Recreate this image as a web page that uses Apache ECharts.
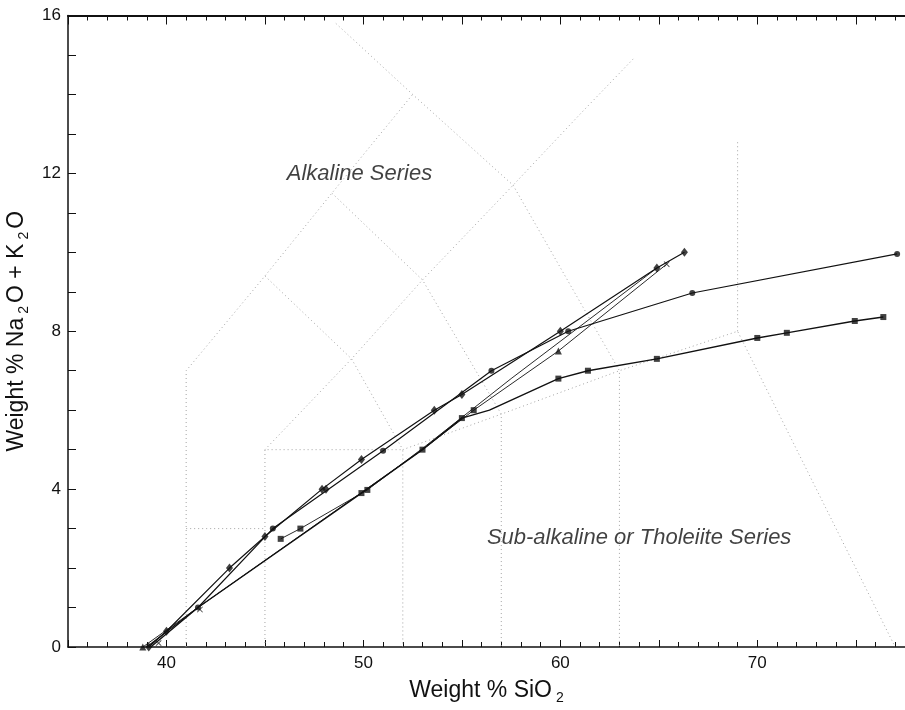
<!DOCTYPE html>
<html>
<head>
<meta charset="utf-8">
<script src="https://cdn.jsdelivr.net/npm/echarts@6/dist/echarts.min.js"></script>
<style>
  html, body { margin: 0; padding: 0; background: #fff; }
  #chart { width: 905px; height: 710px; }
</style>
</head>
<body>
<div id="chart"></div>
<script>
// axis ticks
const xLabels = [40, 50, 60, 70];
const yLabels = [0, 4, 8, 12, 16];

// TAS field boundaries (dotted)
const fieldLines = [
    [[41, 0], [41, 7], [45, 9.4], [48.4, 11.5], [52.5, 14]],
    [[48.6, 15.8], [52.5, 14], [57.6, 11.7], [63, 7], [63, 0]],
    [[41, 3], [45, 3]],
    [[45, 0], [45, 5], [52, 5], [52, 0]],
    [[45, 5], [49.4, 7.3], [53, 9.3], [57.6, 11.7], [61, 13.5], [63.7, 14.9]],
    [[45, 9.4], [49.4, 7.3], [52, 5], [57, 5.9], [63, 7], [69, 8], [77, 0]],
    [[48.4, 11.5], [53, 9.3], [57, 5.9], [57, 0]],
    [[69, 8], [69, 12.8]]
];

// differentiation trends
const trendCircles = [[39.0, 0], [41.6, 1.0], [45.4, 3.0], [51.0, 4.97], [56.5, 7.0], [60.4, 8.0], [66.7, 8.97], [77.1, 9.96]];
const trendDiamonds = [[39.1, 0], [40.0, 0.4], [43.2, 2.0], [45.0, 2.8], [47.9, 4.0], [49.9, 4.75], [53.6, 6.0], [55.0, 6.4], [60.0, 8.0], [64.9, 9.6], [66.3, 10.0]];
const trendTriangles = [[38.8, 0], [41.6, 1.0], [53.0, 5.0], [55.6, 6.0], [59.9, 7.5], [65.4, 9.7]];
const trendTholeiite = [[39.2, 0], [41.6, 1.0], [49.9, 3.9], [53.0, 5.0], [55.0, 5.8], [56.4, 6.0], [59.9, 6.8], [61.4, 7.0], [64.9, 7.3], [70.0, 7.83], [71.5, 7.96], [74.95, 8.26], [76.4, 8.36]];
const trendShort = [[45.8, 2.74], [46.8, 3.0], [50.2, 3.98], [53.1, 5.07], [57.5, 6.8], [64.9, 9.6]];

// plotted samples
const diamondPts = [[39.1, 0], [40.0, 0.4], [43.2, 2.0], [45.0, 2.8], [47.9, 4.0], [48.1, 4.0], [49.9, 4.75], [53.6, 6.0], [55.0, 6.4], [60.0, 8.0], [64.9, 9.6], [66.3, 10.0]];
const circlePts = [[41.6, 1.0], [45.4, 3.0], [51.0, 4.97], [56.5, 7.0], [60.4, 8.0], [66.7, 8.97], [77.1, 9.96]];
const squarePts = [[45.8, 2.74], [46.8, 3.0], [49.9, 3.9], [50.2, 3.98], [53.0, 5.0], [55.0, 5.8], [55.6, 6.0], [59.9, 6.8], [61.4, 7.0], [64.9, 7.3], [70.0, 7.83], [71.5, 7.96], [74.95, 8.26], [76.4, 8.36]];
const trianglePts = [[38.8, 0], [59.9, 7.5]];
const crossPts = [[41.7, 0.95], [65.4, 9.7], [39.6, 0.1]];

const FONT = '"Liberation Sans", Arial, sans-serif';
const INK = '#111';
const crossPath = 'path://M0,1L1,0L5,4L9,0L10,1L6,5L10,9L9,10L5,6L1,10L0,9L4,5Z';

const chart = echarts.init(document.getElementById('chart'), null, {renderer: 'canvas'});

function axisX(pos) {
    return {
        type: 'value',
        position: pos,
        min: 35,
        max: 77.5,
        interval: 5,
        axisLine: {show: true, onZero: false, lineStyle: {color: INK, width: pos === 'top' ? 2 : 1.5}},
        axisTick: {show: true, inside: true, length: pos === 'top' ? 9 : 7, lineStyle: {color: INK, width: 1}},
        minorTick: {show: true, splitNumber: 5, length: 5, lineStyle: {color: INK, width: 1}},
        splitLine: {show: false},
        minorSplitLine: {show: false},
        axisLabel: {
            show: pos === 'bottom',
            margin: 8,
            fontSize: 17,
            fontFamily: FONT,
            color: INK,
            formatter: v => xLabels.includes(v) ? String(v) : ''
        }
    };
}

const xBottom = axisX('bottom');
xBottom.name = '{a|Weight % SiO}{b|2}';
xBottom.nameLocation = 'middle';
xBottom.nameGap = 29;
xBottom.nameTextStyle = {
    color: INK,
    fontFamily: FONT,
    rich: {
        a: {fontSize: 23, fontFamily: FONT, color: INK},
        b: {fontSize: 14, fontFamily: FONT, color: INK, padding: [15, 0, 0, 4]}
    }
};

const option = {
    animation: false,
    backgroundColor: '#fff',
    grid: {left: 68, top: 15.5, right: 0, bottom: 63, outerBoundsMode: 'none', containLabel: false},
    xAxis: [xBottom, axisX('top')],
    yAxis: {
        type: 'value',
        min: 0,
        max: 16,
        interval: 4,
        axisLine: {show: true, lineStyle: {color: INK, width: 1.5}},
        axisTick: {show: true, inside: true, length: 8, lineStyle: {color: INK}},
        minorTick: {show: true, splitNumber: 4, length: 8, lineStyle: {color: INK}},
        splitLine: {show: false},
        axisLabel: {
            margin: 7,
            fontSize: 17,
            fontFamily: FONT,
            color: INK,
            formatter: v => yLabels.includes(v) ? String(v) : ''
        },
        name: '{a|Weight % Na}{b|2}{a|O + K}{b|2}{a|O}',
        nameLocation: 'middle',
        nameGap: 26,
        nameTextStyle: {
            color: INK,
            fontFamily: FONT,
            rich: {
                a: {fontSize: 23, fontFamily: FONT, color: INK},
                b: {fontSize: 14, fontFamily: FONT, color: INK, padding: [15, 3, 0, 4]}
            }
        }
    },
    series: []
};

fieldLines.forEach(seg => {
    option.series.push({
        type: 'line',
        data: seg,
        symbol: 'none',
        silent: true,
        z: 1,
        lineStyle: {color: '#a4a4a4', width: 1, type: [1, 3]}
    });
});

[
    [trendCircles, 1.2],
    [trendDiamonds, 1.2],
    [trendTriangles, 0.9],
    [trendTholeiite, 1.4],
    [trendShort, 0.9]
].forEach(([d, w]) => {
    option.series.push({
        type: 'line',
        data: d,
        symbol: 'none',
        silent: true,
        z: 2,
        lineStyle: {color: INK, width: w}
    });
});

[
    [diamondPts, 'diamond', [7, 9]],
    [circlePts, 'circle', 6],
    [squarePts, 'rect', 6],
    [trianglePts, 'triangle', 7],
    [crossPts, crossPath, 6]
].forEach(([d, sym, size]) => {
    option.series.push({
        type: 'scatter',
        data: d,
        symbol: sym,
        symbolSize: size,
        silent: true,
        z: 3,
        itemStyle: {color: INK}
    });
});

// series labels
[
    [[49.8, 12.0], 'Alkaline Series'],
    [[64.0, 2.76], 'Sub-alkaline or Tholeiite Series']
].forEach(([p, txt]) => {
    option.series.push({
        type: 'scatter',
        data: [p],
        symbolSize: 0,
        silent: true,
        z: 4,
        label: {
            show: true,
            position: 'inside',
            formatter: txt,
            fontSize: 22,
            fontStyle: 'italic',
            fontFamily: FONT,
            color: INK
        }
    });
});

chart.setOption(option);
</script>
</body>
</html>
